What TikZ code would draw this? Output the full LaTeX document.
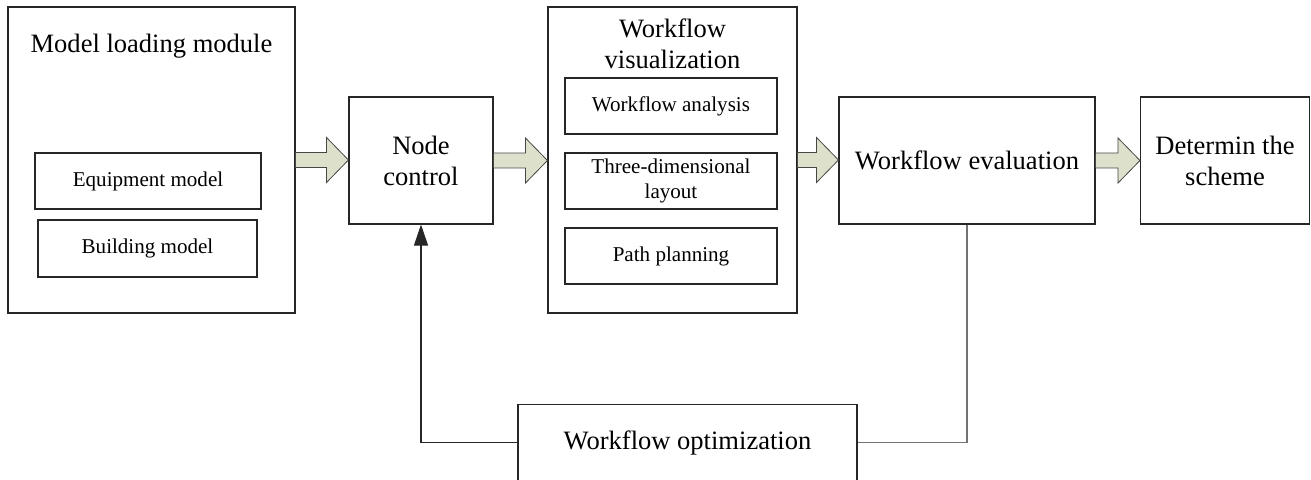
\documentclass[tikz,border=0pt]{standalone}
\usepackage{fontspec}
\setmainfont{Liberation Serif}
\usetikzlibrary{arrows.meta,calc}
\definecolor{arrowfill}{RGB}{221,225,204}
\definecolor{arrowline}{RGB}{70,70,70}
\tikzstyle{block} = [rectangle,
                    draw=black!85,
                    line width=0.8pt,
                    align = center,
                    font=\fontsize{19.9pt}{23.25pt}\selectfont]
\tikzstyle{sub} = [block,
                  minimum width=159pt,
                  minimum height=42pt,
                  font=\fontsize{15.8pt}{18.75pt}\selectfont]
\tikzstyle{fat} = [fill=arrowfill,
                  draw=arrowline,
                  line width=0.6pt,
                  to path={let \p1=(\tikztostart), \p2=(\tikztotarget) in
                    (\x1,\y1+5.6pt) -- (\x2-16.5pt,\y1+5.6pt) -- (\x2-16.5pt,\y1+16.9pt)
                    -- (\x2,\y1) -- (\x2-16.5pt,\y1-16.9pt) -- (\x2-16.5pt,\y1-5.6pt)
                    -- (\x1,\y1-5.6pt) -- cycle}]
\tikzstyle{flow} = [x=0.75pt,
                   y=-0.75pt,
                   line width=0.8pt,
                   >={Triangle[length=15.75pt,width=10.5pt]}]

\begin{document}
\begin{tikzpicture}[flow]
    \useasboundingbox (0,0) rectangle (1311,479);
    \node (load) at (151.5,160) [block, minimum width=215.25pt, minimum height=229.5pt] {};
    \node (loadt) at (151.5,46) [block, draw=none] {Model loading module};
    \node (equip) at (148,181) [block, minimum width=169.5pt, minimum height=42pt,
      font=\fontsize{15.8pt}{18.75pt}\selectfont] {Equipment model};
    \node (build) at (147.5,248.5) [block, minimum width=164.25pt, minimum height=42.75pt,
      font=\fontsize{15.8pt}{18.75pt}\selectfont] {Building model};
    \node (ctrl) at (421,160.5) [block, minimum width=108pt, minimum height=95.25pt] {Node\\control};
    \node (vis) at (672.5,160) [block, minimum width=186.75pt, minimum height=229.5pt] {};
    \node (vist) at (672.5,44) [block, draw=none] {Workflow\\visualization};
    \node (wa) at (671,106) [sub] {Workflow analysis};
    \node (td) at (671,181) [sub] {Three-dimensional\\layout};
    \node (pp) at (671,256) [sub] {Path planning};
    \node (eval) at (967,160.5) [block, minimum width=192pt, minimum height=95.25pt] {Workflow evaluation};
    \node (det) at (1225,160.5) [block, minimum width=126.75pt, minimum height=95.25pt] {Determin the\\scheme};
    \node (opt) at (687.5,442.5) [block, minimum width=254.25pt, minimum height=57pt] {Workflow optimization};
    % block arrows
    \draw[fat] (load.east) to (ctrl.west);
    \draw[fat] (ctrl.east) to (vis.west);
    \draw[fat] (vis.east) to (eval.west);
    \draw[fat] (eval.east) to (det.west);
    % feedback loop
    \draw[black!85, ->] (opt.west) -| (ctrl.south);
    \draw[black!55] (eval.south) |- (opt.east);
\end{tikzpicture}
\end{document}
